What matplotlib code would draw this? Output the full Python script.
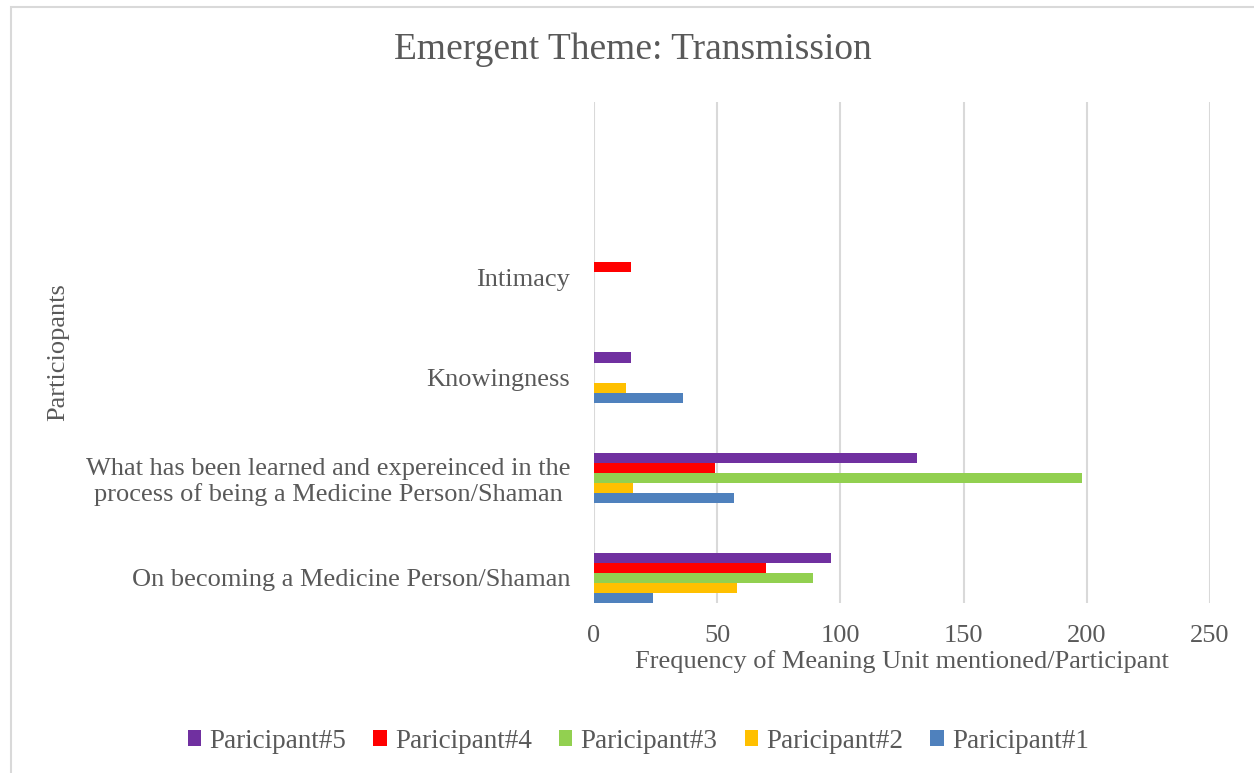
import matplotlib
matplotlib.use('Agg')
import matplotlib.pyplot as plt
from matplotlib.patches import Patch, Rectangle

plt.rcParams['font.family'] = ['Liberation Serif', 'DejaVu Serif']

# categories bottom to top
categories = ['On becoming a Medicine Person/Shaman',
              'What has been learned and expereinced in the\nprocess of being a Medicine Person/Shaman',
              'Knowingness',
              'Intimacy']

series_names = ['Paricipant#1', 'Paricipant#2', 'Paricipant#3', 'Paricipant#4', 'Paricipant#5']
p1 = [24, 57, 36, 0]
p2 = [58, 16, 13, 0]
p3 = [89, 198, 0, 0]
p4 = [70, 49, 0, 15]
p5 = [96, 131, 15, 0]
colors = ['#4F81BD', '#FFC000', '#92D050', '#FF0000', '#7030A0']

xticks = [0, 50, 100, 150, 200, 250]

txt = '#595959'

fig = plt.figure(figsize=(12.54, 7.73), dpi=100)
ax = fig.add_axes([594 / 1254, 1 - 603 / 773, 616 / 1254, 501 / 773])

bh = 0.1
ypos = list(range(len(categories)))
allvals = [p1, p2, p3, p4, p5]
for i, vals in enumerate(allvals):
  off = (i - 2) * bh
  ax.barh([y + off for y in ypos], vals, height=bh, color=colors[i], linewidth=0)

ax.set_xlim(0, 250)
ax.set_ylim(-0.25, 4.75)
ax.set_xticks(xticks)
ax.set_yticks(ypos)
ax.set_yticklabels(categories, multialignment='center')
ax.tick_params(axis='both', length=0, labelsize=19, colors=txt)
ax.tick_params(axis='x', pad=16)
ax.tick_params(axis='y', pad=17)
for s in ax.spines.values():
  s.set_visible(False)
ax.grid(axis='x', color='#d9d9d9', linewidth=1.5)
ax.set_axisbelow(True)

ax.set_xlabel('Frequency of Meaning Unit mentioned/Participant', fontsize=19, color=txt, labelpad=2)
fig.text(58 / 1254, 1 - 352 / 773, 'Particiopants', rotation=90, fontsize=19, color=txt,
         ha='center', va='center')
fig.text(0.505, 1 - 50 / 773, 'Emergent Theme: Transmission', fontsize=27, color=txt,
         ha='center', va='center')

handles = [Patch(facecolor=colors[i], label=series_names[i]) for i in range(4, -1, -1)]
fig.legend(handles=handles, loc='center', bbox_to_anchor=(0.509, 1 - 741 / 773), ncol=5,
           frameon=False, fontsize=19.5, labelcolor=txt, handlelength=0.5, handleheight=0.5,
           handletextpad=0.3, columnspacing=1.0)

fig.patches.append(Rectangle((11 / 1254, -0.05), 1.2, 1 - 7 / 773 + 0.05, transform=fig.transFigure,
                             fill=False, edgecolor='#d9d9d9', linewidth=1.5))

fig.savefig('out.png', dpi=100)
